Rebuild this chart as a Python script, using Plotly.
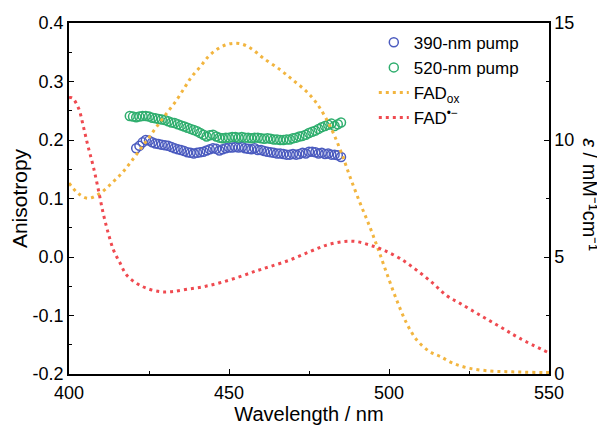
import plotly.graph_objects as go

# ---------------- data ----------------
pump390_wl = list(range(421, 486))
pump390_r = [0.186, 0.190, 0.196, 0.200, 0.199, 0.196, 0.194, 0.193, 0.192, 0.191,
             0.190, 0.188, 0.186, 0.184, 0.183, 0.181, 0.179, 0.178, 0.177, 0.178,
             0.179, 0.180, 0.182, 0.184, 0.186, 0.185, 0.182, 0.184, 0.186, 0.187,
             0.187, 0.188, 0.187, 0.188, 0.186, 0.185, 0.184, 0.186, 0.183, 0.183,
             0.181, 0.180, 0.179, 0.178, 0.177, 0.177, 0.176, 0.175, 0.175, 0.176,
             0.175, 0.176, 0.178, 0.177, 0.180, 0.180, 0.179, 0.177, 0.178, 0.176,
             0.177, 0.175, 0.175, 0.174, 0.171]

pump520_wl = list(range(419, 486))
pump520_r = [0.241, 0.240, 0.239, 0.240, 0.241, 0.241, 0.240, 0.238, 0.237, 0.236,
             0.235, 0.234, 0.232, 0.230, 0.229, 0.227, 0.225, 0.223, 0.221, 0.219,
             0.217, 0.215, 0.212, 0.209, 0.206, 0.208, 0.209, 0.206, 0.204, 0.203,
             0.204, 0.204, 0.205, 0.205, 0.204, 0.205, 0.204, 0.204, 0.203, 0.204,
             0.204, 0.203, 0.202, 0.203, 0.202, 0.201, 0.201, 0.200, 0.200, 0.201,
             0.201, 0.203, 0.204, 0.206, 0.207, 0.209, 0.212, 0.214, 0.216, 0.219,
             0.222, 0.224, 0.226, 0.228, 0.224, 0.227, 0.230]

fadox_wl = [400, 403, 406, 409.7, 413.3, 416.5, 419, 421.7, 424.8, 427.4, 430.5, 433.6,
            436.3, 438.3, 441, 443.5, 446, 448.8, 451.3, 454, 457, 460.7, 466, 470,
            474.3, 477.4, 480, 482.6, 485.2, 487.8, 491, 494, 496.7, 499.3, 502.4,
            505.5, 508.7, 512.8, 516, 520, 525.3, 531.6, 536.8, 542, 548, 550]
fadox_eps = [8.16, 7.7, 7.51, 7.72, 8.15, 8.58, 9.0, 9.5, 10.07, 10.57, 11.14, 11.7,
             12.28, 12.7, 13.13, 13.56, 13.85, 14.06, 14.13, 14.1, 13.9, 13.5, 13.0, 12.56,
             12.06, 11.57, 11.0, 10.29, 9.43, 8.43, 7.29, 6.29, 5.3, 4.3, 3.16,
             2.17, 1.45, 0.95, 0.75, 0.46, 0.24, 0.13, 0.1, 0.08, 0.06, 0.06]

fadsq_wl = [400, 401, 403, 404.5, 406, 407.6, 409.2, 410.7, 412.3, 413.9, 416, 418,
            421.2, 424.3, 428.4, 432, 436.8, 442, 447.2, 453.4, 458.6, 462.8, 469,
            475.3, 480.5, 485.7, 489.8, 494, 498.2, 503.4, 508.6, 513.8, 518, 522.2,
            528.4, 534.7, 540.9, 550]
fadsq_eps = [11.8, 11.8, 11.35, 10.57, 9.7, 8.86, 7.86, 6.86, 6.0, 5.3, 4.73, 4.23,
             3.87, 3.66, 3.52, 3.52, 3.62, 3.73, 3.9, 4.16, 4.41, 4.59, 4.87,
             5.23, 5.51, 5.66, 5.66, 5.51, 5.3, 4.94, 4.44, 3.87, 3.35, 3.02,
             2.52, 2.02, 1.52, 0.9]

left_ticks = [-0.2, -0.1, 0.0, 0.1, 0.2, 0.3, 0.4]
left_ticktext = ["-0.2", "-0.1", "0.0", "0.1", "0.2", "0.3", "0.4"]
right_ticks = [0, 5, 10, 15]
x_ticks = [400, 450, 500, 550]

# ---------------- styles ----------------
BLUE = "#4b5bbf"
GREEN = "#2fae6e"
YELLOW = "#f2b53f"
RED = "#ef4a50"
FONT = "Arial, Liberation Sans, sans-serif"

fig = go.Figure()
fig.add_trace(go.Scatter(x=pump390_wl, y=pump390_r, mode="markers", name="390-nm pump",
                         legendrank=1,
                         marker=dict(symbol="circle-open", size=9, color=BLUE,
                                     line=dict(width=1.5, color=BLUE))))
fig.add_trace(go.Scatter(x=pump520_wl, y=pump520_r, mode="markers", name="520-nm pump",
                         legendrank=2,
                         marker=dict(symbol="circle-open", size=9, color=GREEN,
                                     line=dict(width=1.5, color=GREEN))))
fig.add_trace(go.Scatter(x=fadox_wl, y=fadox_eps, yaxis="y2", mode="lines",
                         name="FAD<sub>ox</sub>", legendrank=3,
                         line=dict(color=YELLOW, width=3, dash="3px,4px", shape="spline")))
fig.add_trace(go.Scatter(x=fadsq_wl, y=fadsq_eps, yaxis="y2", mode="lines",
                         name="FAD<sup>•−</sup>", legendrank=4,
                         line=dict(color=RED, width=3, dash="3px,4px", shape="spline")))

axis_common = dict(showline=True, linecolor="black", linewidth=1.5, ticks="inside",
                   ticklen=5, tickwidth=1.2, tickcolor="black", showgrid=False,
                   zeroline=False, automargin=False,
                   tickfont=dict(size=18, color="black", family=FONT))

fig.update_layout(
    width=605, height=425,
    margin=dict(l=61, r=64, t=15, b=59, autoexpand=False),
    paper_bgcolor="white", plot_bgcolor="white",
    font=dict(family=FONT, color="black"),
    showlegend=True,
    legend=dict(x=0.635, y=0.995, xanchor="left", yanchor="top",
                bgcolor="rgba(0,0,0,0)", font=dict(size=17, family=FONT),
                itemwidth=30, tracegroupgap=0),
    xaxis=dict(range=[400, 550], tickvals=x_ticks, mirror=True, ticklabelstandoff=2,
               minor=dict(ticks="inside", dtick=25, ticklen=3, tickcolor="black"),
               title=dict(text="Wavelength / nm", font=dict(size=20), standoff=0),
               **axis_common),
    yaxis=dict(range=[-0.2, 0.4], tickvals=left_ticks, ticktext=left_ticktext,
               minor=dict(ticks="inside", dtick=0.05, ticklen=3, tickcolor="black"),
               title=dict(text="Anisotropy", font=dict(size=21), standoff=6),
               **axis_common),
    yaxis2=dict(range=[0, 15], tickvals=right_ticks, overlaying="y", side="right",
                minor=dict(ticks="inside", dtick=2.5, ticklen=3, tickcolor="black"),
                **axis_common),
    annotations=[dict(text="<i>ε</i> / mM⁻¹cm⁻¹", textangle=90,
                      x=1.085, y=0.51, xref="paper", yref="paper", showarrow=False,
                      xanchor="center", yanchor="middle",
                      font=dict(size=20, family=FONT, color="black"))],
)

fig.write_html("out.html")
